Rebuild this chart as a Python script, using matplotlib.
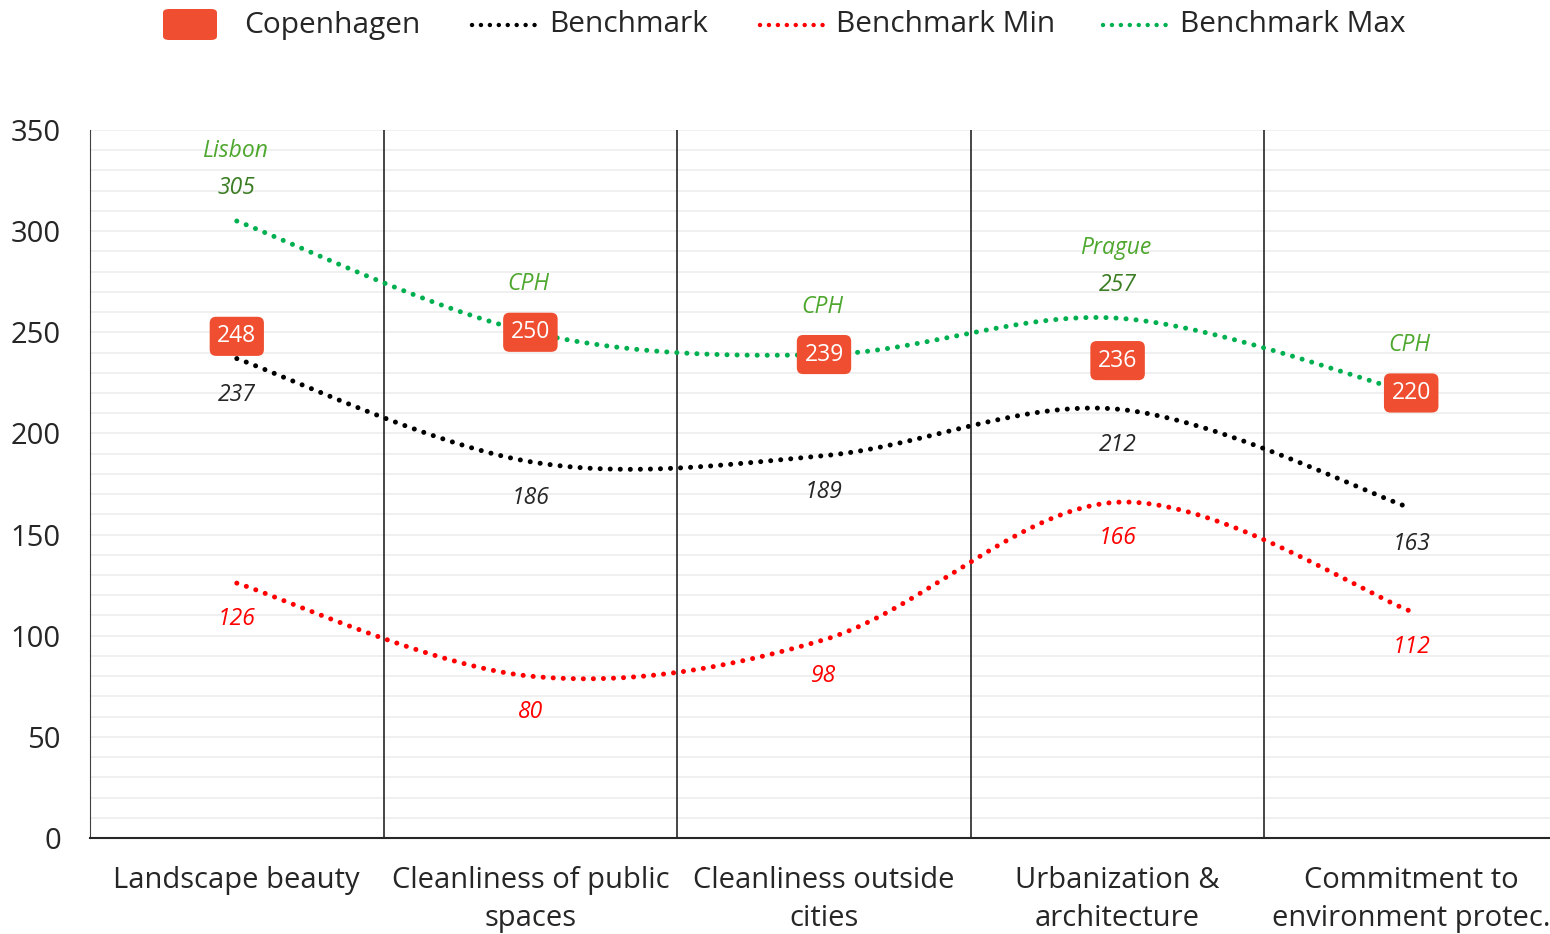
import numpy as np
import matplotlib
matplotlib.use('Agg')
import matplotlib.pyplot as plt
from matplotlib.lines import Line2D
from matplotlib.patches import FancyBboxPatch

categories = ['Landscape beauty', 'Cleanliness of public\nspaces', 'Cleanliness outside\ncities',
              'Urbanization &\narchitecture', 'Commitment to\nenvironment protec.']
copenhagen = [248, 250, 239, 236, 220]
benchmark = [237, 186, 189, 212, 163]
bench_min = [126, 80, 98, 166, 112]
bench_max = [305, 250, 239, 257, 220]
max_city = ['Lisbon', 'CPH', 'CPH', 'Prague', 'CPH']

RED_BOX = '#F04E30'
GREEN = '#00B050'
GREEN_TXT = '#4EA72E'
GREEN_VAL = '#3B7D23'

plt.rcParams['font.family'] = ['Open Sans', 'DejaVu Sans']


def smooth(xs, ys, n=60):
    # Catmull-Rom style smoothing like the spreadsheet "smoothed line"
    pts = np.column_stack([xs, ys]).astype(float)
    p = np.vstack([pts[0], pts, pts[-1]])
    out = []
    for i in range(1, len(p) - 2):
        p0, p1, p2, p3 = p[i - 1], p[i], p[i + 1], p[i + 2]
        c1 = p1 + (p2 - p0) / 6
        c2 = p2 - (p3 - p1) / 6
        t = np.linspace(0, 1, n)[:, None]
        seg = (1 - t) ** 3 * p1 + 3 * (1 - t) ** 2 * t * c1 + 3 * (1 - t) * t ** 2 * c2 + t ** 3 * p2
        out.append(seg if i == 1 else seg[1:])
    out = np.vstack(out)
    return out[:, 0], out[:, 1]


fig = plt.figure(figsize=(15.5, 9.34), dpi=100)
ax = fig.add_axes([90 / 1550, 1 - 838 / 934, 1468 / 1550, 708 / 934])
x = np.arange(len(categories))

ax.set_xlim(-0.5, 4.5)
ax.set_ylim(0, 350)
ax.set_yticks(np.arange(0, 351, 50))
ax.set_yticks(np.arange(0, 351, 10), minor=True)
ax.yaxis.grid(True, which='both', color='#EDEDED', lw=1.2)
ax.set_axisbelow(True)
ax.tick_params(axis='y', which='both', length=0, labelsize=21, pad=21, labelcolor='#262626')
ax.tick_params(axis='x', length=0, labelsize=21, pad=20, labelcolor='#262626')
ax.set_xticks(x)
ax.set_xticklabels(categories, linespacing=1.42)
for s in ['top', 'right']:
    ax.spines[s].set_visible(False)
ax.spines['left'].set_color('#404040')
ax.spines['bottom'].set_color('#262626')
ax.spines['bottom'].set_linewidth(1.5)
for xv in [0.5, 1.5, 2.5, 3.5]:
    ax.axvline(xv, color='#262626', lw=1.2, zorder=1)

dot = dict(linestyle=(0, (0.01, 2.0)), lw=3.6, dash_capstyle='round', zorder=3)
for vals, col in [(bench_max, GREEN), (benchmark, 'black'), (bench_min, '#FF0000')]:
    sx, sy = smooth(x, vals)
    ax.plot(sx, sy, color=col, **dot)

lab = dict(textcoords='offset pixels', ha='center', va='center', fontsize=16.5, style='italic')
for i in x:
    ax.annotate(str(benchmark[i]), (i, benchmark[i]), xytext=(0, -36), color='#262626', **lab)
    ax.annotate(str(bench_min[i]), (i, bench_min[i]), xytext=(0, -36), color='#FF0000', **lab)
    if max_city[i] == 'CPH':
        ax.annotate('CPH', (i, bench_max[i]), xytext=(-2, 48), color=GREEN_TXT, **lab)
    else:
        ax.annotate(str(bench_max[i]), (i, bench_max[i]), xytext=(0, 33), color=GREEN_VAL, **lab)
        ax.annotate(max_city[i], (i, bench_max[i]), xytext=(-2, 70), color=GREEN_TXT, **lab)
    ax.annotate(str(copenhagen[i]), (i, copenhagen[i]), xytext=(0, 0), textcoords='offset pixels',
                ha='center', va='center', fontsize=16.5, color='white', zorder=5,
                bbox=dict(boxstyle='round,pad=0.33,rounding_size=0.28', fc=RED_BOX, ec='none'))

# legend drawn by hand
fig.patches.append(FancyBboxPatch((163 / 1550, 1 - 40 / 934), 54 / 1550, 31 / 934,
                                  boxstyle='round,pad=0,rounding_size=0.004', fc=RED_BOX, ec='none',
                                  transform=fig.transFigure, figure=fig))
ly = 1 - 25 / 934
fig.text(244 / 1550, ly, 'Copenhagen', fontsize=21.5, va='center', color='#262626')
for (x0, x1, col, tx, label) in [(472, 538, 'black', 549, 'Benchmark'),
                                  (760, 826, '#FF0000', 836, 'Benchmark Min'),
                                  (1103, 1169, GREEN, 1180, 'Benchmark Max')]:
    fig.add_artist(Line2D([x0 / 1550, x1 / 1550], [ly, ly], transform=fig.transFigure,
                          color=col, linestyle=(0, (0.01, 2.0)), lw=3.2, dash_capstyle='round'))
    fig.text(tx / 1550, ly, label, fontsize=21.5, va='center', color='#262626')

fig.savefig('out.png', dpi=100)
